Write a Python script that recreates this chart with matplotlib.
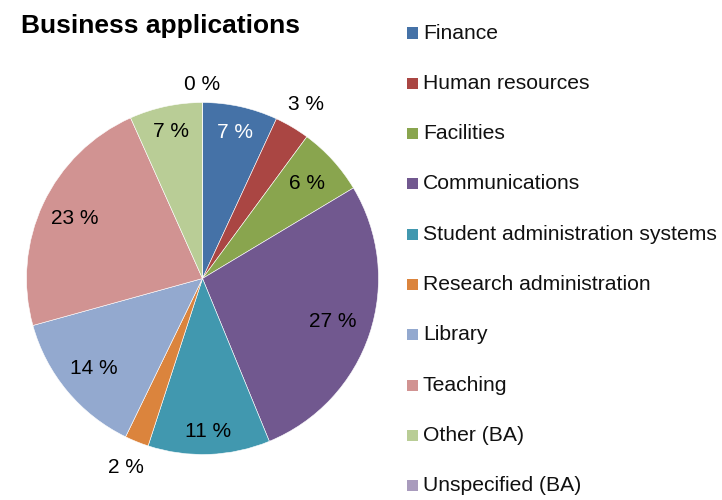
import matplotlib.pyplot as plt
import numpy as np
from matplotlib.patches import Rectangle

plt.rcParams['font.family'] = ['Liberation Sans', 'DejaVu Sans']

# data
categories = ['Finance', 'Human resources', 'Facilities', 'Communications',
              'Student administration systems', 'Research administration',
              'Library', 'Teaching', 'Other (BA)', 'Unspecified (BA)']
shares = [6.9, 3.2, 6.3, 27.4, 11.2, 2.2, 13.5, 22.6, 6.7, 0.0]

colors = ['#4572A7', '#AA4643', '#89A54E', '#71588F', '#4198AF',
          '#DB843D', '#93A9CF', '#D19392', '#B9CD96', '#A99BBD']
# label distance from centre (radius = 1) and text colour for each slice
label_dist = [0.85, 1.15, 0.80, 0.78, 0.87, 1.16, 0.80, 0.80, 0.855, 1.10]
label_col = ['white'] + ['black'] * 9

W, H = 722, 500
fig = plt.figure(figsize=(W / 100, H / 100), dpi=100)

cx, cy, r = 202.5, 278.5, 176
ax = fig.add_axes([(cx - r) / W, (H - cy - r) / H, 2 * r / W, 2 * r / H])
wedges, _ = ax.pie(shares, colors=colors, startangle=90, counterclock=False,
                   radius=1, wedgeprops=dict(edgecolor='white', linewidth=0.4))
ax.set_xlim(-1, 1)
ax.set_ylim(-1, 1)
ax.set_aspect('equal')
ax.axis('off')

# percentage labels
for w, v, d, c in zip(wedges, shares, label_dist, label_col):
    ang = np.deg2rad((w.theta1 + w.theta2) / 2)
    ax.text(d * np.cos(ang), d * np.sin(ang), f'{round(v)} %', ha='center',
            va='center', fontsize=15, color=c, clip_on=False)

fig.text(21 / W, 1 - 33 / H, 'Business applications', fontsize=19,
         fontweight='bold', ha='left', va='baseline')

# legend
for i, (name, col) in enumerate(zip(categories, colors)):
    y = 33 + i * 50.3
    fig.patches.append(Rectangle((407 / W, 1 - (y + 5.5) / H), 11 / W, 11 / H,
                                 facecolor=col, edgecolor='none',
                                 transform=fig.transFigure))
    fig.text(423 / W, 1 - y / H, name, fontsize=15.2, ha='left', va='center',
             color='#111111')

plt.savefig('out.png', dpi=100)
